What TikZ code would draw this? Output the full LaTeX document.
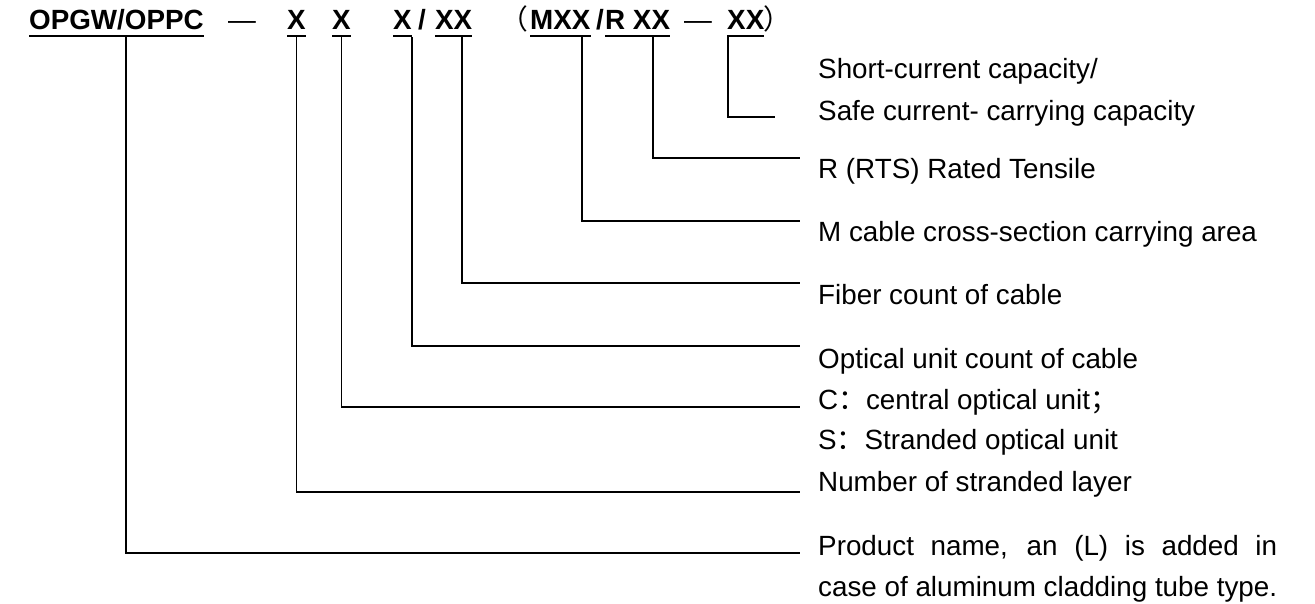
\documentclass[tikz,border=0pt]{standalone}
\usepackage{fontspec}
\setmainfont{Liberation Sans}
\newfontfamily\cjk{Noto Sans CJK SC}
\newcommand\lblfont{\fontsize{27.8}{41.4}\selectfont}
\newlength\casewd

\begin{document}
\begin{tikzpicture}[x=1pt,y=-1pt,
  code/.style={anchor=base west,inner sep=0pt,font=\lblfont\bfseries},
  lbl/.style={anchor=base west,inner sep=0pt,font=\lblfont},
  uline/.style={line width=2.8pt},
  lead/.style={line width=1.6pt}]
\useasboundingbox (0,0) rectangle (1315,604);
% type code
\node[code] (name) at (29,30) {OPGW/OPPC};
\node[code,font=\lblfont] (d1) at (228,30) {—};
\node[code] (layer) at (287,30) {X};
\node[code] (type) at (332,30) {X};
\node[code] (units) at (393,30) {X};
\node[code] (sl1) at (418,30) {/};
\node[code] (fibre) at (435,30) {XX};
\node[code,font=\lblfont\cjk] (lp) at (500,30) {（};
\node[code] (area) at (530,30) {MXX};
\node[code] (sl2) at (596,30) {/};
\node[code] (rts) at (605,30) {R XX};
\node[code,font=\lblfont] (d2) at (684,30) {—};
\node[code] (scc) at (727,30) {XX};
\node[code,font=\lblfont\cjk] (rp) at (763,30) {）};
\foreach \n in {name,layer,type,units,fibre,area,rts,scc}
  \draw[uline] ([yshift=-6pt]\n.base west) -- ([yshift=-6pt]\n.base east);
% meanings
\node[lbl] (sc1) at (818,79) {Short-current capacity/};
\node[lbl] (sc2) at (818,121) {Safe current- carrying capacity};
\node[lbl] (rt) at (818,179) {R (RTS) Rated Tensile};
\node[lbl] (ma) at (818,242) {M cable cross-section carrying area};
\node[lbl] (fc) at (818,305) {Fiber count of cable};
\node[lbl] (uc) at (818,368) {Optical unit count of cable};
\node[lbl] (tc) at (818,409) {C{\cjk ：}central optical unit{\cjk ；}};
\node[lbl] (ts) at (818,449) {S{\cjk ：}Stranded optical unit};
\node[lbl] (nl) at (818,491) {Number of stranded layer};
\node[lbl] (pn1) at (818,555) {\settowidth\casewd{case of aluminum cladding tube type.}%
  \makebox[\casewd][s]{Product name, an (L) is added in}};
\node[lbl] (pn2) at (818,596) {case of aluminum cladding tube type.};
% leaders
\coordinate (escc) at (775,117);
\coordinate (erts) at (800,158);
\coordinate (earea) at (800,221);
\coordinate (efib) at (800,283);
\coordinate (eunit) at (800,346);
\coordinate (etype) at (800,407);
\coordinate (elay) at (800,492);
\coordinate (ename) at (800,553);
\draw[lead] ([xshift=1pt,yshift=-7pt]scc.base west) |- (escc);
\draw[lead] ([xshift=48pt,yshift=-7pt]rts.base west) |- (erts);
\draw[lead] ([xshift=52pt,yshift=-7pt]area.base west) |- (earea);
\draw[lead] ([xshift=27pt,yshift=-7pt]fibre.base west) |- (efib);
\draw[lead] ([yshift=-7pt]units.base east) |- (eunit);
\draw[lead] ([yshift=-7pt]type.base) |- (etype);
\draw[lead] ([yshift=-7pt]layer.base) |- (elay);
\draw[lead] ([xshift=97pt,yshift=-7pt]name.base west) |- (ename);
\end{tikzpicture}
\end{document}
